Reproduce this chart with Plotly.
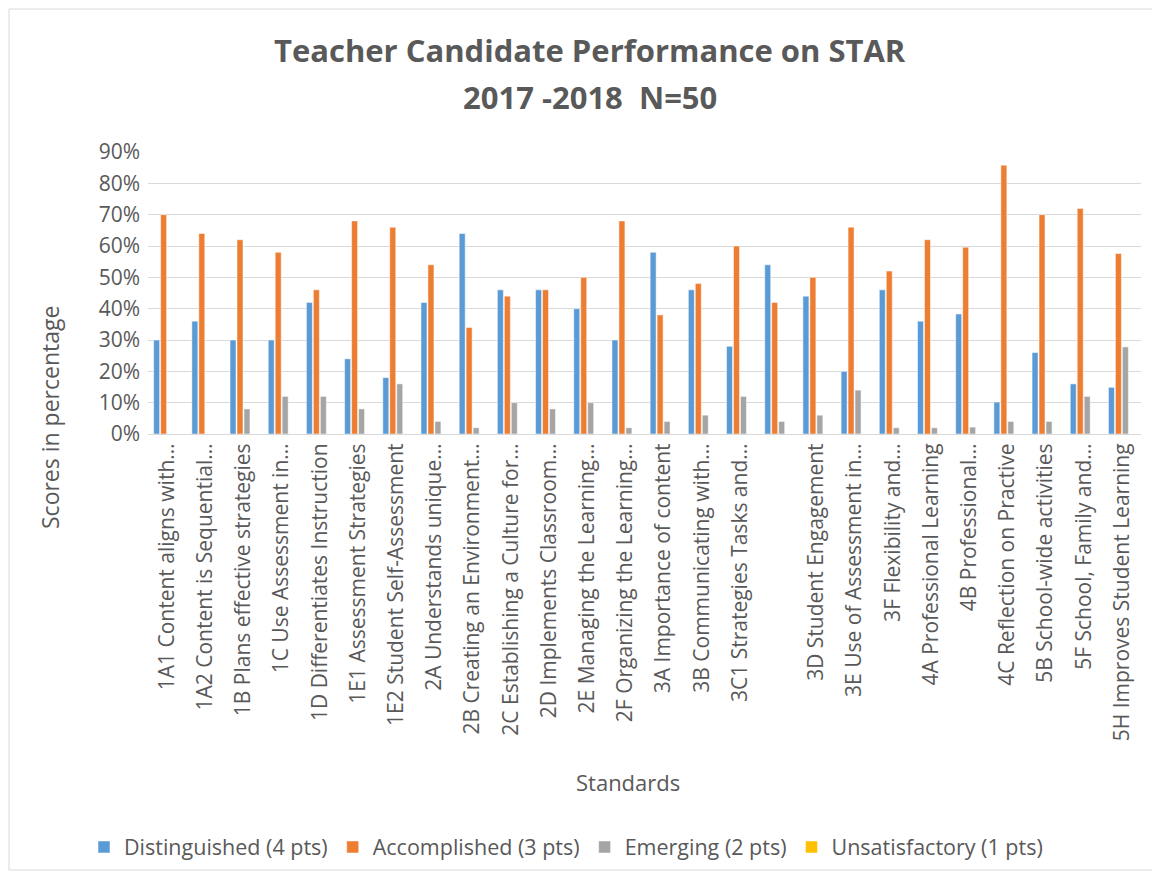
import plotly.graph_objects as go

categories = [
    "1A1 Content aligns with…", "1A2 Content is Sequential…", "1B Plans effective strategies",
    "1C Use Assessment in…", "1D Differentiates Instruction", "1E1 Assessment Strategies",
    "1E2 Student Self-Assessment", "2A Understands unique…", "2B Creating an Environment…",
    "2C Establishing a Culture for…", "2D Implements Classroom…", "2E Managing the Learning…",
    "2F Organizing the Learning…", "3A Importance of content", "3B Communicating with…",
    "3C1 Strategies Tasks and…", " ", "3D Student Engagement", "3E Use of Assessment in…",
    "3F Flexibility and…", "4A Professional Learning", "4B Professional…",
    "4C Reflection on Practive", "5B School-wide activities", "5F School, Family and…",
    "5H Improves Student Learning",
]

distinguished = [30, 36, 30, 30, 42, 24, 18, 42, 64, 46, 46, 40, 30, 58, 46, 28, 54, 44, 20, 46, 36, 38.3, 10.2, 26, 16, 14.9]
accomplished = [70, 64, 62, 58, 46, 68, 66, 54, 34, 44, 46, 50, 68, 38, 48, 60, 42, 50, 66, 52, 62, 59.6, 85.8, 70, 72, 57.6]
emerging = [0, 0, 8, 12, 12, 8, 16, 4, 2, 10, 8, 10, 2, 4, 6, 12, 4, 6, 14, 2, 2, 2.2, 4, 4, 12, 27.8]
unsatisfactory = [0] * 26

series = [
    ("Distinguished (4 pts)", distinguished, "#5b9bd5"),
    ("Accomplished (3 pts)", accomplished, "#ed7d31"),
    ("Emerging (2 pts)", emerging, "#a5a5a5"),
    ("Unsatisfactory (1 pts)", unsatisfactory, "#ffc000"),
]

FONT = "Open Sans"
GRAY = "#595959"

fig = go.Figure()
for name, vals, color in series:
    fig.add_trace(go.Bar(
        name=name, x=categories, y=[v / 100 for v in vals],
        marker=dict(color=color, line=dict(color="white", width=0.5)),
    ))

OFF = 8  # default page body margin
W, H = 1160 - OFF, 873 - OFF
L, R, T, B = 148 - OFF, 19, 152 - OFF, 439
pw, ph = W - L - R, H - T - B


def px(x):  # page x -> paper
    return (x - (L + OFF)) / pw


def py(y):  # page y -> paper
    return (T + OFF + ph - y) / ph


fig.update_layout(
    width=W, height=H,
    margin=dict(l=L, r=R, t=T, b=B, autoexpand=False),
    paper_bgcolor="white", plot_bgcolor="white",
    barmode="group", bargap=0.27, bargroupgap=0.14,
    font=dict(family=FONT, color=GRAY, size=21),
    showlegend=True,
    legend=dict(orientation="h", xref="container", yref="container",
                x=(566 - OFF) / W, xanchor="center", y=(H - (847 - OFF)) / H, yanchor="middle",
                font=dict(size=21.5, color=GRAY), traceorder="normal", itemwidth=30),
    xaxis=dict(type="category", tickangle=-90, tickfont=dict(size=21, color=GRAY),
               showgrid=False, showline=True, linecolor="#d9d9d9", linewidth=1,
               ticks="", fixedrange=True),
    yaxis=dict(range=[0, 0.9], dtick=0.1, tickformat=".0%", showgrid=True,
               gridcolor="#d9d9d9", gridwidth=1, zeroline=False, showline=False,
               tickfont=dict(size=21, color=GRAY), ticks="", ticklen=0,
               ticklabelstandoff=7),
    annotations=[
        dict(text="<b>Teacher Candidate Performance on STAR</b>", x=px(590), y=py(50),
             xref="paper", yref="paper", xanchor="center", yanchor="middle",
             showarrow=False, font=dict(size=31, color=GRAY)),
        dict(text="<b>2017 -2018  N=50</b>", x=px(590), y=py(97),
             xref="paper", yref="paper", xanchor="center", yanchor="middle",
             showarrow=False, font=dict(size=31, color=GRAY)),
        dict(text="Standards", x=px(628), y=py(782), xref="paper", yref="paper",
             xanchor="center", yanchor="middle",
             showarrow=False, font=dict(size=22, color=GRAY)),
        dict(text="Scores in percentage", x=px(50), y=py(418), xref="paper", yref="paper",
             xanchor="center", yanchor="middle",
             showarrow=False, textangle=-90, font=dict(size=23, color=GRAY)),
    ],
    shapes=[dict(type="rect", xref="paper", yref="paper", x0=px(9), x1=px(1157),
                 y0=py(870), y1=py(9), line=dict(color="#d9d9d9", width=1), layer="below")],
)

fig.write_html("out.html")
